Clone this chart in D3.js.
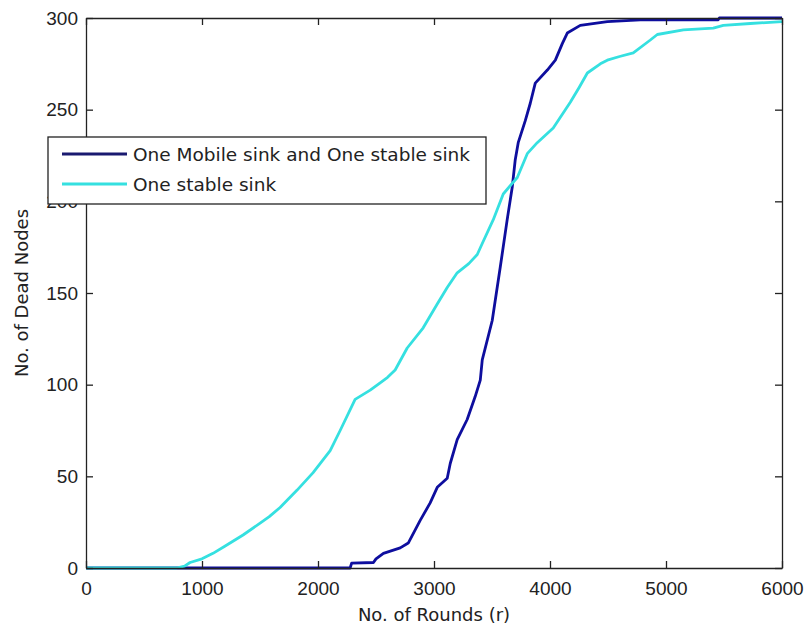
<!DOCTYPE html>
<html>
<head>
<meta charset="utf-8">
<script src="https://cdn.jsdelivr.net/npm/d3@7"></script>
<style>
  html, body { margin: 0; padding: 0; background: #fff; }
  svg text { fill: #222; }
</style>
</head>
<body>
<svg id="chart" width="804" height="629"></svg>
<script>
// Dead nodes over rounds for two sink configurations
const xTicks = [0, 1000, 2000, 3000, 4000, 5000, 6000];
const yTicks = [0, 50, 100, 150, 200, 250, 300];

const seriesNames = ["One Mobile sink and One stable sink", "One stable sink"];

const mobileRounds = [0, 2277, 2290, 2478, 2500, 2564, 2709, 2778, 2881, 2967, 3028, 3114, 3140, 3200, 3286, 3355, 3399, 3416, 3502, 3571, 3631, 3675, 3700, 3726, 3787, 3830, 3873, 3977, 4046, 4106, 4149, 4261, 4494, 4779, 5450, 5460, 6000];
const mobileDead = [0, 0, 2.7, 3, 5, 8, 11, 13.6, 26, 35.5, 44, 49, 57, 70, 81, 93.5, 102.5, 113.5, 135, 164, 190, 208, 222.5, 232, 244, 253.5, 264.5, 271.6, 277, 286, 291.8, 296, 298, 299, 299, 300, 300];

const stableRounds = [0, 780, 850, 897, 1000, 1095, 1200, 1354, 1501, 1580, 1673, 1820, 1958, 2105, 2191, 2320, 2450, 2536, 2600, 2665, 2769, 2907, 3028, 3114, 3200, 3300, 3373, 3416, 3511, 3597, 3650, 3718, 3804, 3890, 4028, 4175, 4250, 4322, 4434, 4494, 4600, 4718, 4865, 4925, 5150, 5408, 5494, 5727, 6000];
const stableDead = [0, 0, 1, 3, 5, 8, 12, 18, 24.5, 28, 33, 42.5, 52, 64, 75, 92, 97, 101, 104, 108, 120, 131, 144, 153, 161, 166, 171, 177, 190, 204, 208, 213, 226, 232, 240, 254, 262, 270, 275, 277, 279, 281, 288, 291, 293.5, 294.5, 296, 297, 298];

const colors = ["#0e0e9e", "#35e0e0"];

const svg = d3.select("#chart");
const plotLeft = 86, plotRight = 782, plotTop = 18, plotBottom = 568;
const tickFont = "'Liberation Sans', Arial, sans-serif";
const labelFont = "'DejaVu Sans', Verdana, sans-serif";

const x = d3.scaleLinear().domain([0, 6000]).range([plotLeft, plotRight]);
const y = d3.scaleLinear().domain([0, 300]).range([plotBottom, plotTop]);

const series = [
  { name: seriesNames[0], color: colors[0], pts: mobileRounds.map((r, i) => [r, mobileDead[i]]) },
  { name: seriesNames[1], color: colors[1], pts: stableRounds.map((r, i) => [r, stableDead[i]]) }
];

const line = d3.line().x(d => x(d[0])).y(d => y(d[1]));

series.forEach(s => {
  svg.append("path")
    .datum(s.pts)
    .attr("d", line)
    .attr("fill", "none")
    .attr("stroke", s.color)
    .attr("stroke-width", 2.8)
    .attr("stroke-linejoin", "round");
});

// axes with inward ticks on all four sides
const tickLen = 7;
const fmt = d3.format("d");

const xAxis = svg.append("g").attr("transform", `translate(0,${plotBottom})`)
  .call(d3.axisBottom(x).tickValues(xTicks).tickFormat(fmt).tickSizeInner(-tickLen).tickSizeOuter(0).tickPadding(14));
const xTop = svg.append("g").attr("transform", `translate(0,${plotTop})`)
  .call(d3.axisTop(x).tickValues(xTicks).tickSizeInner(-tickLen).tickSizeOuter(0).tickFormat(""));
const yAxis = svg.append("g").attr("transform", `translate(${plotLeft},0)`)
  .call(d3.axisLeft(y).tickValues(yTicks).tickFormat(fmt).tickSizeInner(-tickLen).tickSizeOuter(0).tickPadding(8));
const yRight = svg.append("g").attr("transform", `translate(${plotRight},0)`)
  .call(d3.axisRight(y).tickValues(yTicks).tickSizeInner(-tickLen).tickSizeOuter(0).tickFormat(""));

[xAxis, xTop, yAxis, yRight].forEach(g => {
  g.select(".domain").attr("stroke", "#222").attr("stroke-width", 1.3);
  g.selectAll(".tick line").attr("stroke", "#222").attr("stroke-width", 1.3);
  g.selectAll(".tick text").attr("font-size", 19).attr("fill", "#222")
    .attr("font-family", tickFont);
});

// axis titles
svg.append("text")
  .attr("x", (plotLeft + plotRight) / 2).attr("y", 621)
  .attr("text-anchor", "middle").attr("font-size", 18)
  .attr("font-family", labelFont)
  .text("No. of Rounds (r)");

svg.append("text")
  .attr("transform", `translate(28,${(plotTop + plotBottom) / 2}) rotate(-90)`)
  .attr("text-anchor", "middle").attr("font-size", 18)
  .attr("font-family", labelFont)
  .text("No. of Dead Nodes");

// legend
const lg = svg.append("g");
lg.append("rect")
  .attr("x", 48).attr("y", 137).attr("width", 438).attr("height", 67)
  .attr("fill", "#fff").attr("stroke", "#222").attr("stroke-width", 1.3);
series.forEach((s, i) => {
  const ly = 154 + i * 30;
  lg.append("line")
    .attr("x1", 62).attr("x2", 127).attr("y1", ly).attr("y2", ly)
    .attr("stroke", i === 0 ? "#1a1a70" : s.color).attr("stroke-width", 2.8);
  lg.append("text")
    .attr("x", 133).attr("y", ly).attr("dy", "0.36em")
    .attr("font-size", 18.5)
    .attr("font-family", labelFont)
    .text(s.name);
});
</script>
</body>
</html>
